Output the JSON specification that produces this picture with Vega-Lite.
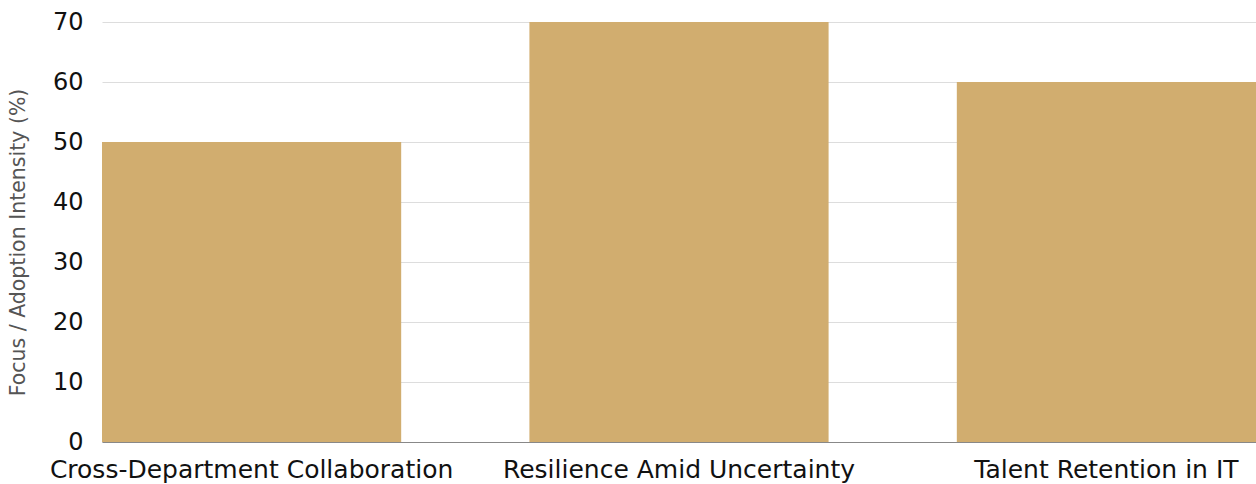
{
  "$schema": "https://vega.github.io/schema/vega-lite/v6.json",
  "autosize": {"type": "none"},
  "padding": {"left": 102, "top": 22, "right": 0, "bottom": 42},
  "width": 1154,
  "height": 420,
  "background": "white",
  "data": {"values": [
    {"category": "Cross-Department Collaboration", "value": 50},
    {"category": "Resilience Amid Uncertainty", "value": 70},
    {"category": "Talent Retention in IT", "value": 60}
  ]},
  "mark": {"type": "bar", "color": "#D1AD6F"},
  "encoding": {
    "x": {
      "field": "category", "type": "nominal", "sort": null,
      "scale": {"paddingInner": 0.3, "paddingOuter": 0},
      "axis": {"title": null, "labelAngle": 0, "labelFont": "DejaVu Sans", "labelFontSize": 25, "labelColor": "#111", "labelLimit": 0, "ticks": false, "labelPadding": 15, "domainColor": "#888", "domainWidth": 1, "labelOverlap": false}
    },
    "y": {
      "field": "value", "type": "quantitative",
      "scale": {"domain": [0, 70]},
      "axis": {"title": "Focus / Adoption Intensity (%)", "titleFont": "DejaVu Sans", "titleFontSize": 20.5, "titleFontWeight": "normal", "titleColor": "#555", "titlePadding": 24, "titleY": 220, "values": [0,10,20,30,40,50,60,70], "labelFont": "DejaVu Sans", "labelFontSize": 24, "labelColor": "#111", "ticks": false, "labelPadding": 19, "domain": false, "gridColor": "#dddddd", "gridWidth": 1}
    }
  },
  "config": {"view": {"stroke": null}}
}
